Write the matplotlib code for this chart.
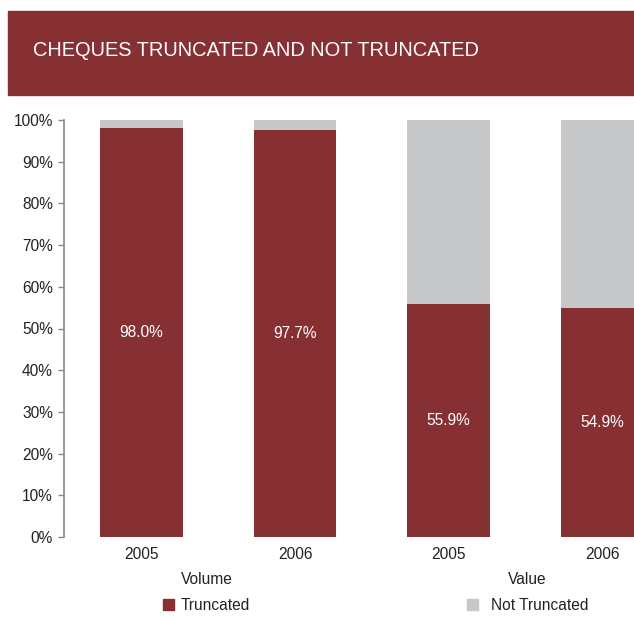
import matplotlib.pyplot as plt
from matplotlib.patches import Rectangle

plt.rcParams['font.family'] = ['Liberation Sans', 'DejaVu Sans']

years = ['2005', '2006', '2005', '2006']
groups = ['Volume', 'Value']
truncated = [98.0, 97.7, 55.9, 54.9]
not_truncated = [100 - v for v in truncated]

red = '#873034'
grey = '#c6c7c9'
txt = '#222222'
fs = 11.2

fig = plt.figure(figsize=(6.34, 6.22), dpi=100)

# header banner
fig.patches.append(Rectangle((8 / 634, 1 - 95 / 622), 1, 84 / 622,
                             transform=fig.transFigure, color=red, zorder=0))
fig.text(33 / 634, 1 - 51 / 622, 'CHEQUES TRUNCATED AND NOT TRUNCATED',
         color='white', fontsize=14.4, va='center', ha='left')

ax = fig.add_axes([64 / 634, 85 / 622, 1 - 64 / 634, 417 / 622])
x = range(len(years))
w = 0.54
ax.bar(x, truncated, w, color=red, label='Truncated')
ax.bar(x, not_truncated, w, bottom=truncated, color=grey, label='Not Truncated')

for i, v in enumerate(truncated):
    ax.text(i, v / 2, f'{v:.1f}%', color='white', ha='center', va='center', fontsize=fs)

ax.set_xlim(-0.505, 3.208)
ax.set_ylim(0, 100)
ax.set_yticks(range(0, 101, 10))
ax.set_yticklabels([f'{t}%' for t in range(0, 101, 10)], fontsize=fs, color=txt)
ax.set_xticks(list(x))
ax.set_xticklabels(years, fontsize=fs, color=txt)
ax.tick_params(axis='x', length=0, pad=7)
ax.tick_params(axis='y', length=4, color='#888888', width=1, pad=4)
for s in ['top', 'right', 'bottom']:
    ax.spines[s].set_visible(False)
ax.spines['left'].set_color('#888888')
ax.spines['left'].set_linewidth(1.2)

# group labels under the year ticks
for cx, g in zip([207, 527], groups):
    fig.text(cx / 634, 1 - 579 / 622, g, ha='center', va='center', fontsize=fs, color=txt)

# legend
handles, labels = ax.get_legend_handles_labels()
for (hx, tx), h, l in zip([(168, 181), (472, 491)], handles, labels):
    fig.patches.append(Rectangle(((hx - 5) / 634, 1 - 610 / 622), 11 / 634, 11 / 622,
                                 transform=fig.transFigure, color=h.patches[0].get_facecolor()))
    fig.text(tx / 634, 1 - 605 / 622, l, ha='left', va='center', fontsize=fs, color=txt)

fig.savefig('out.png', dpi=100)
